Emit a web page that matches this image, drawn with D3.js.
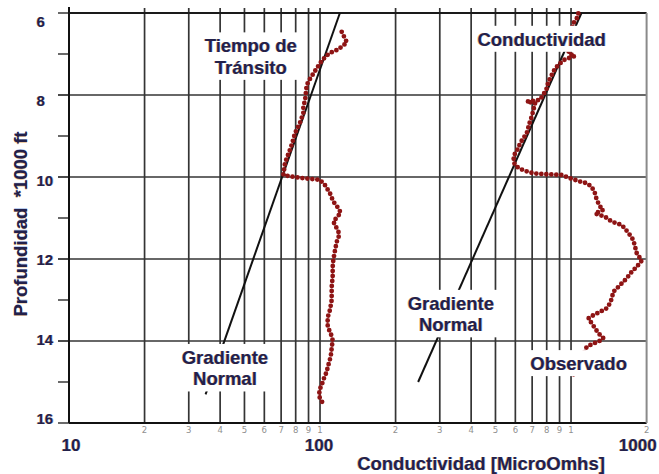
<!DOCTYPE html>
<html>
<head>
<meta charset="utf-8">
<script src="https://cdn.jsdelivr.net/npm/d3@7"></script>
<style>
  body { margin: 0; background: #fff; }
  svg { display: block; }
  .txt {
    font-family: "Liberation Sans", Arial, sans-serif;
    font-weight: bold;
    fill: #23214a;
    text-shadow: -0.6px 0 rgba(214, 134, 28, 0.55), 0.6px 0 rgba(40, 100, 210, 0.4);
  }
  .minor { font-family: "DejaVu Sans", sans-serif; font-size: 8.5px; fill: #8f8f8f; }
</style>
</head>
<body>
<svg id="chart" width="659" height="474"></svg>
<script>
// Depth axis (thousands of feet) and conductivity axis (log)
const depthMajor = [6, 8, 10, 12, 14, 16];
const depthAll = [6, 7, 8, 9, 10, 11, 12, 13, 14, 15, 16];
const gridValues = [20, 30, 40, 50, 60, 70, 80, 90, 100, 200, 300, 400, 500, 600, 700, 800, 900, 1000];
const minorTickValues = [20, 30, 40, 50, 60, 70, 80, 90, 100, 200, 300, 400, 500, 600, 700, 800, 900, 1000, 2000];
const minorTickText = ["2", "3", "4", "5", "6", "7", "8", "9", "1", "2", "3", "4", "5", "6", "7", "8", "9", "1", "2"];
const majorTickValues = [10, 100, 2000];
const majorTickText = ["10", "100", "1000"];

// Transit-time log (observed)
const ttDepth = [6.46, 6.72, 6.89, 6.98, 7.15, 7.35, 7.63, 7.76, 8.12, 8.29, 8.44, 8.68, 8.93, 9.14, 9.29, 9.66, 9.83, 9.95,
  9.99, 10.02, 10.05, 10.07, 10.2, 10.4, 10.6, 10.72, 10.87, 11.09, 11.17, 11.33, 11.41, 11.58, 11.78, 12.02, 12.19, 12.43,
  12.68, 13.0, 13.24, 13.37, 13.57, 13.69, 13.81, 13.98, 14.18, 14.38, 14.59, 14.75, 14.91, 15.07, 15.2, 15.36, 15.54];
const ttValue = [122, 128, 118, 109, 102, 97, 90.7, 88.5, 87.2, 85.8, 85.8, 83.2, 79.5, 77.8, 76.4, 72.5, 71.9, 71.4,
  77.1, 83.2, 92.7, 100, 104.7, 109.6, 113, 117, 121, 113, 114.8, 118.3, 119.4, 116.6, 114.8, 113, 112.3, 112.3,
  111.3, 111.3, 109.6, 107.9, 106.9, 107.9, 110.3, 112.3, 111.3, 110.3, 107.9, 106.3, 103.7, 101.6, 99.4, 99.4, 103.1];

// Conductivity log (observed)
const condDepth = [6.01, 6.13, 6.27, 6.98, 7.05, 7.13, 7.23, 7.35, 7.51, 7.68, 7.84, 7.92, 8.12, 8.16, 8.2, 8.37, 8.53, 8.65,
  8.93, 9.18, 9.3, 9.42, 9.59, 9.71, 9.79, 9.85, 9.91, 9.93, 9.94, 9.95, 10.03, 10.11, 10.15, 10.24, 10.4, 10.56, 10.72,
  10.8, 10.89, 10.97, 11.09, 11.17, 11.36, 11.54, 11.7, 11.86, 12.04, 12.19, 12.31, 12.47, 12.68, 12.8, 12.96, 13.08,
  13.2, 13.29, 13.37, 13.45, 13.57, 13.69, 13.81, 13.93, 14.02, 14.06, 14.14, 14.79, 14.87];
const condValue = [1069, 1054, 1016, 976, 1037, 946, 904, 864, 838, 812, 800, 788, 752, 666, 719, 708, 697, 686,
  666, 626, 617, 598, 589, 598, 622, 656, 708, 776, 850, 918, 991, 1086, 1155, 1209, 1246, 1266, 1305,
  1345, 1246, 1366, 1453, 1592, 1692, 1771, 1799, 1827, 1913, 1827, 1745, 1667, 1543, 1474, 1453, 1430,
  1388, 1305, 1227, 1172, 1209, 1246, 1285, 1345, 1285, 1227, 1155, 1037, 991];

// Normal compaction trends
const ttTrendDepth = [6, 15.3];
const ttTrendValue = [120, 35];
const condTrendDepth = [6, 15];
const condTrendValue = [1100, 246];

// Annotations: [lines], anchor value, anchor depth (first baseline)
const notes = [
  { lines: ["Tiempo de", "Tránsito"], v: 53, d: 6.96 },
  { lines: ["Conductividad"], v: 764, d: 6.8 },
  { lines: ["Gradiente", "Normal"], v: 41.8, d: 14.56 },
  { lines: ["Gradiente", "Normal"], v: 332, d: 13.24 },
  { lines: ["Observado"], v: 1072, d: 14.71 }
];

const svg = d3.select("#chart");
const x = d3.scaleLog().domain([10, 2000]).range([69, 646.6]);
const y = d3.scaleLinear().domain([6, 16]).range([13, 423]);
const yLabel = d3.scaleLinear().domain([6, 16]).range([27, 424]);

const gridColor = "#343434";

// horizontal grid + depth ticks
svg.append("g").selectAll("line").data(depthMajor.slice(1, -1)).join("line")
  .attr("x1", 58).attr("x2", x(2000)).attr("y1", d => y(d)).attr("y2", d => y(d))
  .attr("stroke", gridColor).attr("stroke-width", 1.7);
svg.append("g").selectAll("line").data(depthAll).join("line")
  .attr("x1", 58).attr("x2", 69).attr("y1", d => y(d)).attr("y2", d => y(d))
  .attr("stroke", "#444").attr("stroke-width", 1.6);

// vertical grid
svg.append("g").selectAll("line").data(gridValues).join("line")
  .attr("x1", d => x(d)).attr("x2", d => x(d)).attr("y1", 8).attr("y2", y(16))
  .attr("stroke", gridColor).attr("stroke-width", 1.7);

// frame
svg.append("line").attr("x1", x(10)).attr("x2", x(10)).attr("y1", 7).attr("y2", y(16))
  .attr("stroke", "#111").attr("stroke-width", 2);
svg.append("line").attr("x1", x(10)).attr("x2", x(2000)).attr("y1", y(16)).attr("y2", y(16))
  .attr("stroke", "#111").attr("stroke-width", 2.2);
svg.append("line").attr("x1", x(10)).attr("x2", x(2000)).attr("y1", y(6)).attr("y2", y(6))
  .attr("stroke", "#1a1a1a").attr("stroke-width", 1.8);
svg.append("line").attr("x1", x(2000)).attr("x2", x(2000)).attr("y1", y(6)).attr("y2", y(16))
  .attr("stroke", "#8a8a8a").attr("stroke-width", 2);

// trend lines
const line = d3.line().x(p => x(p[1])).y(p => y(p[0]));
svg.append("path").attr("d", line(ttTrendDepth.map((d, i) => [d, ttTrendValue[i]])))
  .attr("fill", "none").attr("stroke", "#111").attr("stroke-width", 2);
svg.append("path").attr("d", line(condTrendDepth.map((d, i) => [d, condTrendValue[i]])))
  .attr("fill", "none").attr("stroke", "#111").attr("stroke-width", 2);

// observed logs as dotted curves
const dotted = (depths, values) => svg.append("path")
  .attr("d", line(depths.map((d, i) => [d, values[i]])))
  .attr("fill", "none").attr("stroke", "#8e1414").attr("stroke-width", 4.8)
  .attr("stroke-linecap", "round").attr("stroke-dasharray", "0 5");
dotted(ttDepth, ttValue);
dotted(condDepth, condValue);

// annotation labels on white backing
notes.forEach(n => {
  const g = svg.append("g");
  const t = g.append("text").attr("class", "txt").attr("text-anchor", "middle")
    .attr("font-size", 18.5);
  n.lines.forEach((s, i) => {
    t.append("tspan").attr("x", x(n.v)).attr("y", y(n.d) + i * 21.5).text(s);
  });
  const b = t.node().getBBox();
  g.insert("rect", "text").attr("x", b.x - 4).attr("y", b.y - 3).attr("width", b.width + 8)
    .attr("height", b.height + 5).attr("fill", "#fff");
});

// depth tick labels
svg.append("g").selectAll("text").data(depthMajor).join("text")
  .attr("class", "txt").attr("font-size", 15).attr("x", 36.5).attr("y", d => yLabel(d))
  .text(d => d);

// small decade digits under the axis
svg.append("g").selectAll("text").data(minorTickValues).join("text")
  .attr("class", "minor").attr("text-anchor", "middle")
  .attr("x", d => x(d)).attr("y", 432.5).text((d, i) => minorTickText[i]);

// decade labels
svg.append("g").selectAll("text").data(majorTickValues).join("text")
  .attr("class", "txt").attr("font-size", 17)
  .attr("text-anchor", (d, i) => i === 2 ? "end" : "middle")
  .attr("x", (d, i) => i === 2 ? x(d) + 10 : x(d) + (i === 0 ? 2 : -1))
  .attr("y", 451).text((d, i) => majorTickText[i]);

// axis titles
svg.append("text").attr("class", "txt").attr("font-size", 18.5).attr("text-anchor", "middle")
  .attr("x", 481).attr("y", 470).text("Conductividad [MicroOmhs]");
svg.append("text").attr("class", "txt").attr("font-size", 18.5).attr("text-anchor", "middle")
  .attr("transform", "translate(27,224) rotate(-90)").style("white-space", "pre")
  .text("Profundidad  *1000 ft");
</script>
</body>
</html>
